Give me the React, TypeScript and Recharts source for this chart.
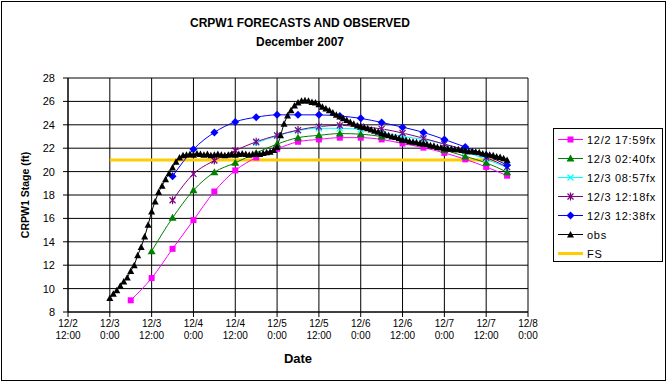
import { CartesianGrid, Legend, Line, LineChart, XAxis, YAxis } from "recharts";

const FONT = "'Liberation Sans', Arial, sans-serif";

// x values are days of December 2007 (3.25 = 12/3 06:00)
const xTicks = [2.5, 3, 3.5, 4, 4.5, 5, 5.5, 6, 6.5, 7, 7.5, 8];
const yTicks = [8, 10, 12, 14, 16, 18, 20, 22, 24, 26, 28];

// 6-hourly forecast valid times
const fcTimes = [3.25, 3.5, 3.75, 4, 4.25, 4.5, 4.75, 5, 5.25, 5.5, 5.75, 6, 6.25, 6.5, 6.75, 7, 7.25, 7.5, 7.75];

const fc1759 = [9.0, 10.9, 13.4, 15.85, 18.3, 20.1, 21.2, 21.95, 22.55, 22.75, 22.9, 22.9, 22.75, 22.4, 22.05, 21.6, 21.05, 20.4, 19.65];
const fc0240 = [13.2, 16.05, 18.4, 19.95, 20.75, 21.6, 22.35, 22.9, 23.1, 23.25, 23.2, 23.0, 22.7, 22.35, 21.85, 21.3, 20.75, 19.95];
const fc0857 = [22.45, 23.05, 23.5, 23.7, 23.7, 23.6, 23.35, 23.0, 22.75, 22.35, 21.7, 21.05, 20.35];
const fc1218 = [17.55, 19.8, 20.95, 21.8, 22.55, 23.1, 23.55, 23.85, 23.95, 23.85, 23.65, 23.3, 22.85, 22.35, 21.85, 21.2, 20.4];
const fc1238 = [19.6, 21.9, 23.35, 24.25, 24.65, 24.85, 24.85, 24.85, 24.75, 24.55, 24.2, 23.8, 23.35, 22.75, 22.1, 21.4, 20.55];

// hourly observations starting 12/3 00:00
const obsStart = 3;
const obsStage = [
  9.2, 9.55, 9.85, 10.25, 10.6, 10.95, 11.5, 12.0, 12.85, 13.55,
  14.45, 15.45, 16.6, 17.45, 18.25, 18.8, 19.35, 19.85, 20.35, 20.85,
  21.2, 21.4, 21.45, 21.5, 21.45, 21.55, 21.5, 21.45, 21.5, 21.4,
  21.45, 21.5, 21.45, 21.4, 21.45, 21.5, 21.45, 21.5, 21.55, 21.5,
  21.45, 21.5, 21.55, 21.5, 21.6, 21.65, 21.7, 21.85, 22.1, 23.1,
  24.1, 24.8, 25.25, 25.65, 25.9, 26.05, 26.1, 26.05, 25.95, 25.9,
  25.75, 25.55, 25.4, 25.25, 25.05, 24.85, 24.7, 24.55, 24.4, 24.25,
  24.1, 23.95, 23.85, 23.8, 23.7, 23.6, 23.5, 23.4, 23.3, 23.2,
  23.1, 23.0, 22.95, 22.85, 22.75, 22.7, 22.6, 22.55, 22.5, 22.45,
  22.4, 22.35, 22.25, 22.2, 22.1, 22.05, 22.0, 21.98, 21.95, 21.9,
  21.9, 21.85, 21.8, 21.75, 21.75, 21.7, 21.65, 21.55, 21.5, 21.45,
  21.4, 21.3, 21.25, 21.15, 21.0,
];

// flood stage
const fsTimes = [3, 7.75];
const fsStage = [21, 21];

const toPts = (times: number[], vals: number[]) => vals.map((v, i) => ({ t: times[i], v }));
const tail = (n: number) => fcTimes.slice(fcTimes.length - n);

const series = [
  { name: "12/2 17:59fx", color: "#FF00FF", marker: "square", data: toPts(tail(fc1759.length), fc1759) },
  { name: "12/3 02:40fx", color: "#008000", marker: "triangle", data: toPts(tail(fc0240.length), fc0240) },
  { name: "12/3 08:57fx", color: "#00FFFF", marker: "x", data: toPts(tail(fc0857.length), fc0857) },
  { name: "12/3 12:18fx", color: "#800080", marker: "star", data: toPts(tail(fc1218.length), fc1218) },
  { name: "12/3 12:38fx", color: "#0000FF", marker: "diamond", data: toPts(tail(fc1238.length), fc1238) },
  { name: "obs", color: "#000000", marker: "obs", data: obsStage.map((v, i) => ({ t: obsStart + i / 24, v })) },
];
const fsData = toPts(fsTimes, fsStage);

function Marker({ kind, cx, cy, color }: { kind: string; cx: number; cy: number; color: string }) {
  switch (kind) {
    case "square":
      return <rect x={cx - 3} y={cy - 3} width={6} height={6} fill={color} />;
    case "triangle":
      return <polygon points={`${cx},${cy - 4} ${cx + 4},${cy + 3} ${cx - 4},${cy + 3}`} fill={color} />;
    case "obs":
      return <polygon points={`${cx},${cy - 3.5} ${cx + 3.5},${cy + 3} ${cx - 3.5},${cy + 3}`} fill={color} />;
    case "diamond":
      return <polygon points={`${cx},${cy - 4} ${cx + 4},${cy} ${cx},${cy + 4} ${cx - 4},${cy}`} fill={color} />;
    case "x":
      return (
        <path d={`M${cx - 3},${cy - 3}L${cx + 3},${cy + 3}M${cx - 3},${cy + 3}L${cx + 3},${cy - 3}`} stroke={color} strokeWidth={1.2} />
      );
    case "star":
      return (
        <path
          d={`M${cx - 3},${cy - 3}L${cx + 3},${cy + 3}M${cx - 3},${cy + 3}L${cx + 3},${cy - 3}M${cx},${cy - 4}L${cx},${cy + 4}`}
          stroke={color}
          strokeWidth={1.2}
        />
      );
    default:
      return null;
  }
}

function DateTick({ x, y, payload }: any) {
  const day = Math.floor(payload.value + 1e-6);
  const hour = Math.round((payload.value - day) * 24);
  return (
    <text x={x} y={y} textAnchor="middle" fontSize={10} fontFamily={FONT} fill="#000">
      <tspan x={x} dy="0.72em">{`12/${day}`}</tspan>
      <tspan x={x} dy="1.2em">{`${hour}:00`}</tspan>
    </text>
  );
}

function LegendBox() {
  const items = [...series.map((s) => ({ name: s.name, color: s.color, marker: s.marker, w: 1 })), { name: "FS", color: "#FFCC00", marker: "", w: 3 }];
  return (
    <div
      style={{
        width: 110,
        height: 134,
        boxSizing: "border-box",
        border: "1px solid #000",
        background: "#fff",
        paddingTop: 1,
        fontFamily: FONT,
        fontSize: 11,
        letterSpacing: 0.7,
        color: "#000",
      }}
    >
      {items.map((it) => (
        <div key={it.name} style={{ display: "flex", alignItems: "center", height: 19 }}>
          <svg width={33} height={19} style={{ flex: "none" }}>
            <line x1={4} x2={29} y1={9.5} y2={9.5} stroke={it.color} strokeWidth={it.w} />
            <Marker kind={it.marker} cx={16.5} cy={9.5} color={it.color} />
          </svg>
          <span style={{ whiteSpace: "pre" }}>{it.name}</span>
        </div>
      ))}
    </div>
  );
}

export default function App() {
  return (
    <div style={{ position: "absolute", left: 0, top: 0, width: 672, height: 384, background: "#fff" }}>
      <div
        style={{
          position: "absolute",
          left: 1,
          top: 1,
          width: 665,
          height: 380,
          boxSizing: "border-box",
          border: "1px solid #000",
        }}
      />
      <div
        style={{
          position: "absolute",
          left: 0,
          top: 14,
          width: 600,
          textAlign: "center",
          fontFamily: FONT,
          fontWeight: "bold",
          fontSize: 12,
          lineHeight: "19px",
          color: "#000",
        }}
      >
        <div>CRPW1 FORECASTS AND OBSERVED</div>
        <div>December 2007</div>
      </div>
      <LineChart width={672} height={384} margin={{ top: 78, right: 144, bottom: 32, left: 8 }} style={{ position: "absolute", left: 0, top: 0 }}>
        <CartesianGrid stroke="#000" strokeWidth={1} />
        <XAxis
          dataKey="t"
          type="number"
          domain={[2.5, 8]}
          ticks={xTicks}
          allowDataOverflow
          height={40}
          stroke="#000"
          tickSize={5}
          tickMargin={3}
          tick={<DateTick />}
          interval={0}
          label={{
            content: () => (
              <text x={298} y={363} textAnchor="middle" fontFamily={FONT} fontWeight="bold" fontSize={13} fill="#000">
                Date
              </text>
            ),
          }}
        />
        <YAxis
          type="number"
          domain={[8, 28]}
          ticks={yTicks}
          width={60}
          stroke="#000"
          tickSize={5}
          tickMargin={8}
          interval={0}
          tick={{ fontSize: 11, fontFamily: FONT, fill: "#000" }}
          label={{
            content: () => (
              <text
                x={29}
                y={195}
                transform="rotate(-90 29 195)"
                textAnchor="middle"
                fontFamily={FONT}
                fontWeight="bold"
                fontSize={10.5}
                fill="#000"
              >
                CRPW1 Stage (ft)
              </text>
            ),
          }}
        />
        <Line data={fsData} dataKey="v" name="FS" stroke="#FFCC00" strokeWidth={3} dot={false} type="linear" isAnimationActive={false} legendType="none" />
        {series.map((s) => (
          <Line
            key={s.name}
            data={s.data}
            dataKey="v"
            name={s.name}
            stroke={s.color}
            strokeWidth={1}
            type={s.marker === "obs" ? "linear" : "monotone"}
            isAnimationActive={false}
            dot={(p: any) => <Marker key={`${s.name}-${p.index}`} kind={s.marker} cx={p.cx} cy={p.cy} color={s.color} />}
            activeDot={false}
          />
        ))}
        <Legend
          layout="horizontal"
          align="center"
          verticalAlign="middle"
          wrapperStyle={{ left: 553, top: 128, width: 110, height: 134 }}
          content={() => <LegendBox />}
        />
      </LineChart>
    </div>
  );
}
